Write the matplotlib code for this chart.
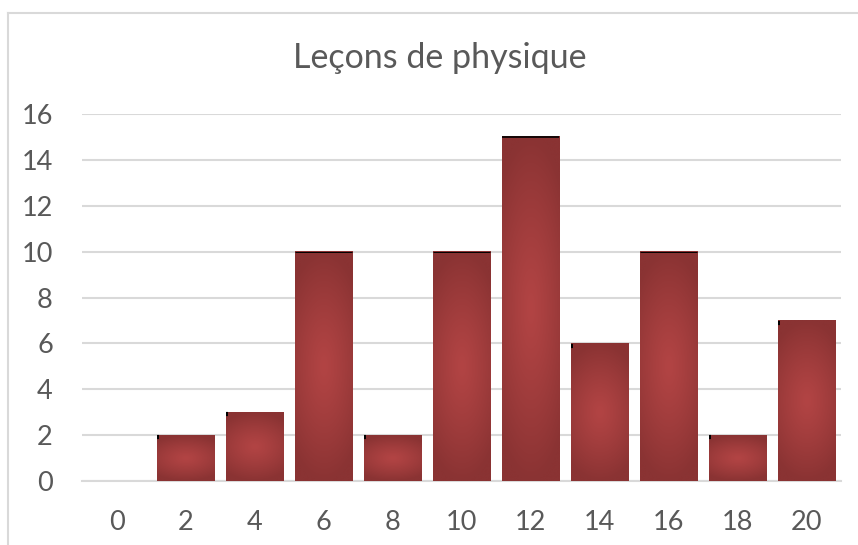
import matplotlib
matplotlib.use("Agg")
import matplotlib.pyplot as plt
import numpy as np
from matplotlib.lines import Line2D

# data
notes = ["0", "2", "4", "6", "8", "10", "12", "14", "16", "18", "20"]
counts = [0, 2, 3, 10, 2, 10, 15, 6, 10, 2, 7]
title = "Leçons de physique"

plt.rcParams['font.family'] = ['Lato', 'DejaVu Sans']
text_col = '#595959'
grid_col = '#d9d9d9'

fig = plt.figure(figsize=(8.58, 5.45), dpi=100)
W, H = 858, 545
ax = fig.add_axes([82 / W, (H - 481) / H, (841 - 82) / W, (481 - 114) / H])

# chart frame (only left and top edges visible in the crop)
fig.add_artist(Line2D([7.5 / W, 7.5 / W], [0.0, 1 - 13 / H], color=grid_col, lw=1.5,
                      transform=fig.transFigure))
fig.add_artist(Line2D([7.5 / W, 1.0], [1 - 13 / H, 1 - 13 / H], color=grid_col, lw=1.5,
                      transform=fig.transFigure))

# gradient image for the bars (light centre, darker edges)
c_mid = np.array([178, 68, 68]) / 255
c_edge = np.array([138, 51, 51]) / 255
u = np.linspace(-1, 1, 120)
v = np.linspace(-1, 1, 120)
U, V = np.meshgrid(u, v)
t = np.clip(np.sqrt((0.65 * U) ** 2 + V ** 2), 0, 1) ** 1.2
grad = c_mid[None, None, :] * (1 - t[..., None]) + c_edge[None, None, :] * t[..., None]

x = np.arange(len(notes))
width = 0.84
bars = ax.bar(x, counts, width=width, color='none', zorder=3)
for b, h in zip(bars, counts):
    if h <= 0:
        continue
    x0 = b.get_x()
    ax.imshow(grad, extent=(x0, x0 + width, 0, h), aspect='auto', zorder=3,
              interpolation='bilinear')
    if h >= 10:
        ax.plot([x0, x0 + width], [h, h], color='black', lw=1.2 if h > 10 else 0.7,
                zorder=4, solid_capstyle='butt')
    else:
        # small dark tick in the top-left corner, as in the source
        ax.plot([x0, x0 + 0.04], [h - 0.1, h - 0.1], color='black', lw=3, zorder=4,
                solid_capstyle='butt')

ax.set_xlim(-0.5, len(notes) - 0.5)
ax.set_ylim(0, 16)
ax.set_yticks(range(0, 17, 2))
ax.set_xticks(x)
ax.set_xticklabels(notes)
ax.yaxis.grid(True, color=grid_col, lw=1.5)
ax.set_axisbelow(True)
for s in ['top', 'right', 'left']:
    ax.spines[s].set_visible(False)
ax.spines['bottom'].set_color(grid_col)
ax.spines['bottom'].set_linewidth(1.5)
ax.tick_params(axis='both', length=0, labelsize=19.5, labelcolor=text_col)
ax.tick_params(axis='y', pad=21)
ax.tick_params(axis='x', pad=21)

fig.text(440 / W, 1 - 58 / H, title, ha='center', va='center', fontsize=24.5,
         color=text_col)

fig.savefig("out.png", dpi=100)
